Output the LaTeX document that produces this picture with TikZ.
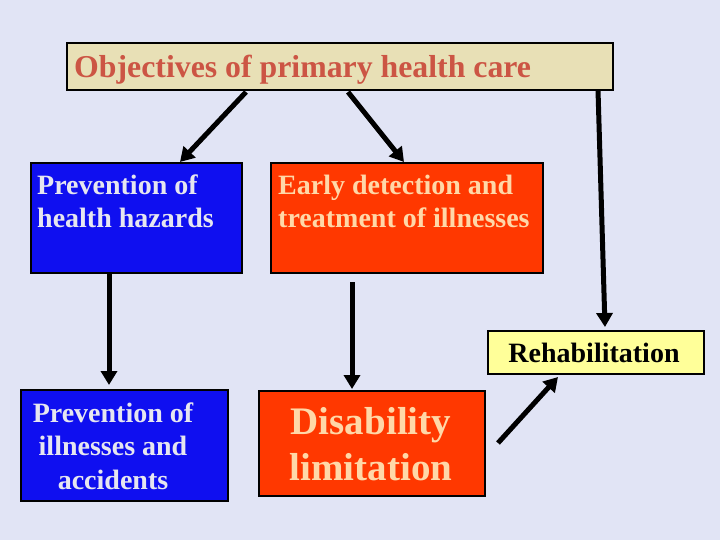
\documentclass[tikz,border=0pt]{standalone}
\usepackage{fontspec}
\setmainfont{Liberation Serif}
\usetikzlibrary{arrows.meta}
\definecolor{bg}{HTML}{E1E4F5}
\definecolor{tan}{HTML}{E8E0B6}
\definecolor{titletxt}{HTML}{CC5544}
\definecolor{bluebox}{HTML}{0F0FF0}
\definecolor{bluetxt}{HTML}{E6E6F0}
\definecolor{redbox}{HTML}{FF3800}
\definecolor{redtxt}{HTML}{FFD8A8}
\definecolor{yelbox}{HTML}{FFFF99}
\tikzset{
  boxbase/.style={draw=black, line width=2pt, inner sep=0pt, anchor=north west},
  arr/.style={line width=5pt, -{Triangle[length=14pt,width=16pt]}},
  txt/.style={font=\bfseries, inner sep=0pt, align=left}
}
\begin{document}
\begin{tikzpicture}[x=1pt,y=-1pt]
\fill[bg] (0,0) rectangle (720,540);
\useasboundingbox (0,0) rectangle (720,540);
% title
\node[boxbase, fill=tan, minimum width=546pt, minimum height=47pt] (title) at (66,42) {};
\node[txt, anchor=west, text=titletxt, font=\bfseries\fontsize{31.8}{36}\selectfont] (titletext) at (74,70) {Objectives of primary health care};
% blue 1
\node[boxbase, fill=bluebox, minimum width=211pt, minimum height=110pt] (b1) at (30,162) {};
\node[txt, anchor=west, text=bluetxt, font=\bfseries\fontsize{28}{33}\selectfont] (b1t) at (37,201) {Prevention of\\health hazards};
% red 1
\node[boxbase, fill=redbox, minimum width=272pt, minimum height=110pt] (r1) at (270,162) {};
\node[txt, anchor=west, text=redtxt, font=\bfseries\fontsize{28}{33}\selectfont] (r1t) at (278,201) {Early detection and\\treatment of illnesses};
% rehabilitation
\node[boxbase, fill=yelbox, minimum width=216pt, minimum height=43pt] (rh) at (487,330) {};
\node[txt, text=black, font=\bfseries\fontsize{28}{33}\selectfont] (rht) at (594,353) {Rehabilitation};
% blue 2
\node[boxbase, fill=bluebox, minimum width=207pt, minimum height=111pt] (b2) at (20,389) {};
\node[txt, align=center, text=bluetxt, font=\bfseries\fontsize{28}{33.5}\selectfont] (b2t) at (113,446) {Prevention of\\illnesses and\\accidents};
% red 2
\node[boxbase, fill=redbox, minimum width=226pt, minimum height=105pt] (r2) at (258,390) {};
\node[txt, align=center, text=redtxt, font=\bfseries\fontsize{39}{46}\selectfont] (r2t) at (371,444) {Disability\\limitation};
% connector end points
\coordinate (a1s) at (246,92);  \coordinate (a1e) at (180,162);
\coordinate (a2s) at (348,92);  \coordinate (a2e) at (404,162);
\coordinate (a3s) at (598,90);  \coordinate (a3e) at (605,327);
\coordinate (a4s) at (109,273); \coordinate (a4e) at (109,385);
\coordinate (a5s) at (352,282); \coordinate (a5e) at (352,389);
\coordinate (a6s) at (498,443); \coordinate (a6e) at (558,377);
\draw[arr] (a1s) -- (a1e);
\draw[arr] (a2s) -- (a2e);
\draw[arr] (a3s) -- (a3e);
\draw[arr] (a4s) -- (a4e);
\draw[arr] (a5s) -- (a5e);
\draw[arr] (a6s) -- (a6e);
\end{tikzpicture}
\end{document}
